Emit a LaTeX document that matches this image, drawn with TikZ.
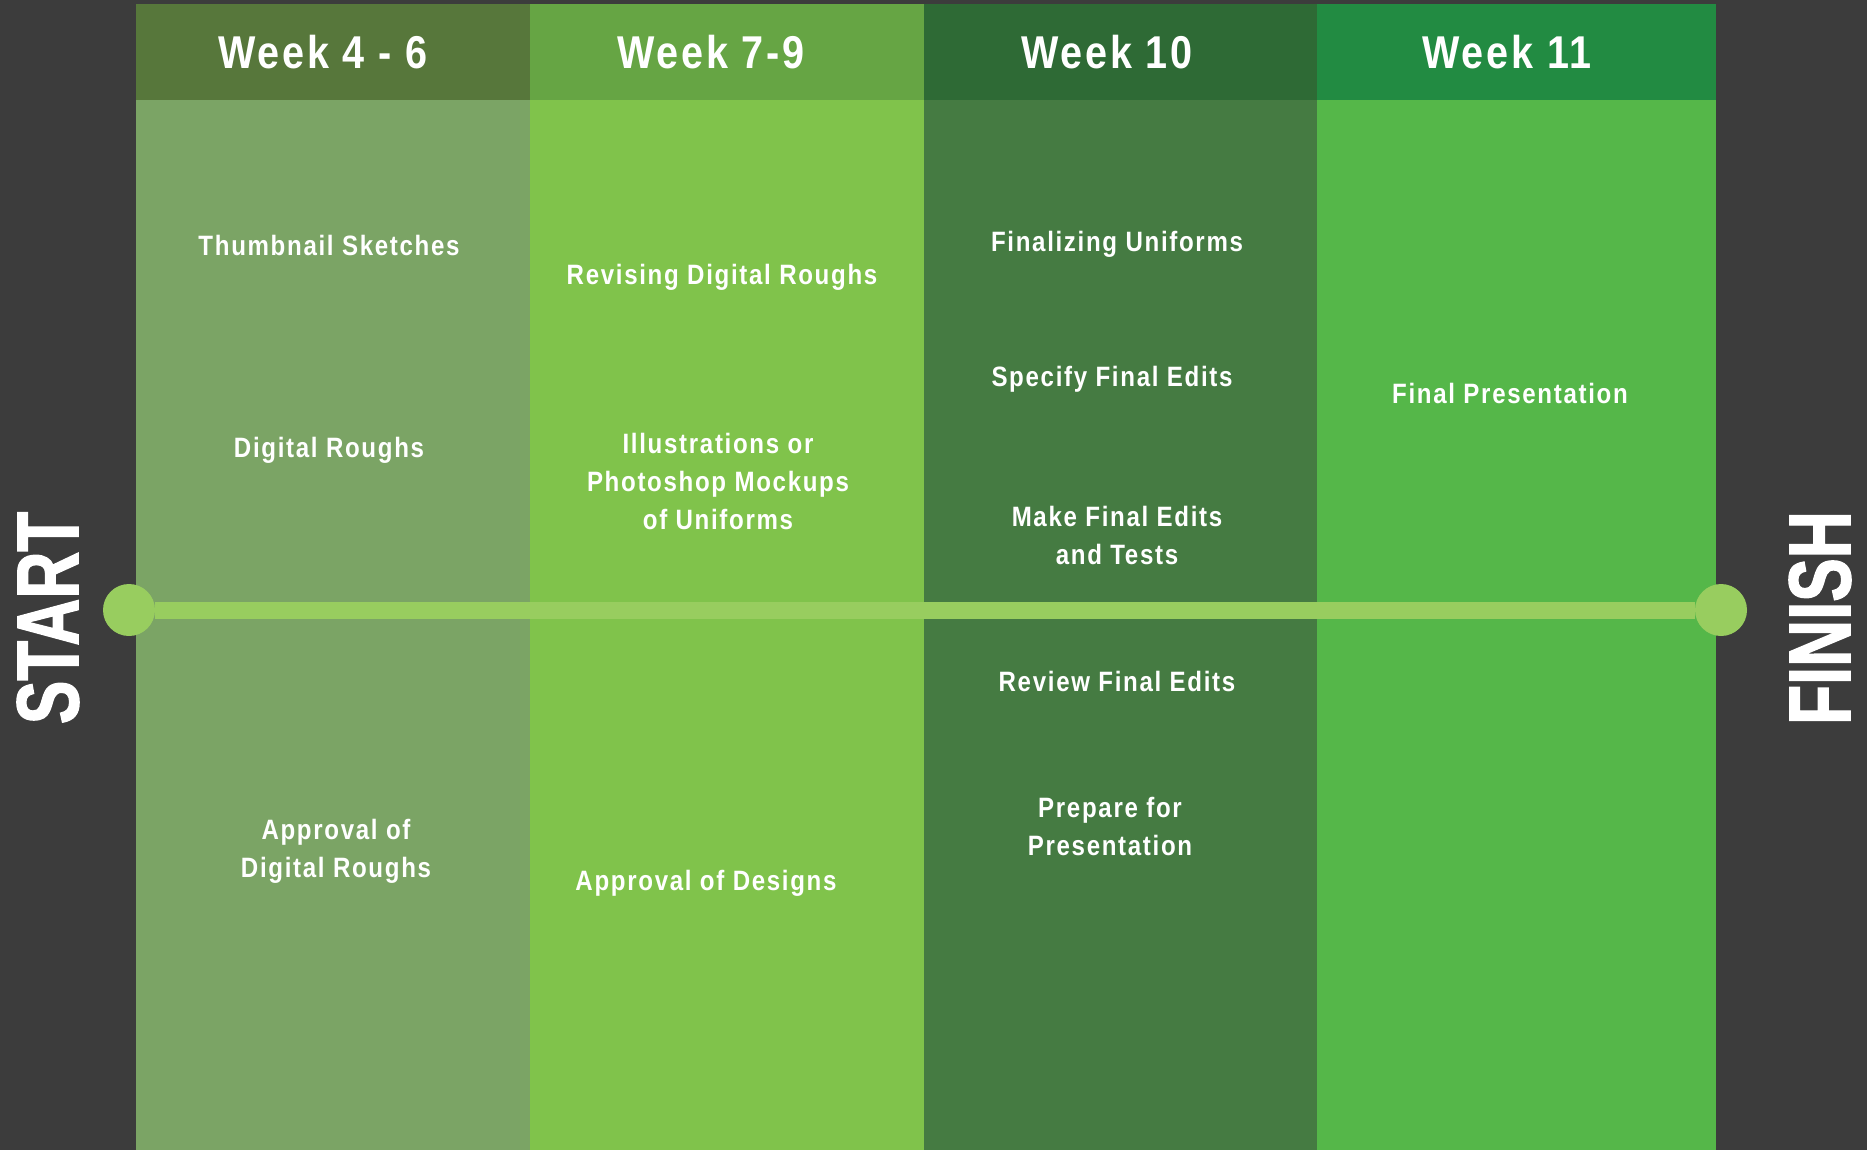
\documentclass[tikz,border=0pt]{standalone}
\usepackage{fontspec}
\setmainfont{Liberation Sans}[FakeStretch=0.86,LetterSpace=6]
\newfontfamily\bigfont{Liberation Sans}[FakeStretch=0.74,FakeBold=1.5]

\definecolor{board}{HTML}{3C3C3C}
\definecolor{headA}{HTML}{57773B}
\definecolor{bodyA}{HTML}{7BA465}
\definecolor{headB}{HTML}{66A544}
\definecolor{bodyB}{HTML}{80C34B}
\definecolor{headC}{HTML}{2E6A35}
\definecolor{bodyC}{HTML}{457B42}
\definecolor{headD}{HTML}{228B42}
\definecolor{bodyD}{HTML}{55B749}
\definecolor{tline}{HTML}{98CD5F}

\tikzset{
  week/.style={text=white,font=\fontsize{46}{50}\selectfont\bfseries},
  task/.style={text=white,align=center,font=\fontsize{28}{38}\selectfont\bfseries},
  dot/.style={circle,fill=tline,minimum size=52pt,inner sep=0pt},
  endlabel/.style={text=white,rotate=90,font=\bigfont\fontsize{88}{88}\selectfont\bfseries}
}

\begin{document}
\begin{tikzpicture}[x=1pt,y=-1pt]

\fill[board] (0,0) rectangle (1867,1150);

% week columns
\fill[headA] (136,4) rectangle (530,100);
\fill[bodyA] (136,100) rectangle (530,1150);
\fill[headB] (530,4) rectangle (924,100);
\fill[bodyB] (530,100) rectangle (924,1150);
\fill[headC] (924,4) rectangle (1317,100);
\fill[bodyC] (924,100) rectangle (1317,1150);
\fill[headD] (1317,4) rectangle (1716,100);
\fill[bodyD] (1317,100) rectangle (1716,1150);

\node[week] (wkA) at (323,52) {Week 4 - 6};
\node[week] (wkB) at (711,52) {Week 7-9};
\node[week] (wkC) at (1107,52) {Week 10};
\node[week] (wkD) at (1507,52) {Week 11};

% timeline
\node[dot] (start) at (129,610) {};
\node[dot] (finish) at (1721,610) {};
\draw[tline,line width=17pt] (start) -- (finish);

\node[endlabel] (startlbl) at (48,618) {START};
\node[endlabel] (finishlbl) at (1820,618) {FINISH};

% tasks, weeks 4-6
\node[task] (thumb) at (329,245) {Thumbnail Sketches};
\node[task] (rough) at (329,450) {Digital Roughs};
\node[task] (okrough) at (336,851) {Approval of\\Digital Roughs};

% weeks 7-9
\node[task] (revise) at (722,277) {Revising Digital Roughs};
\node[task] (mockup) at (718,481) {Illustrations or\\Photoshop Mockups\\of Uniforms};
\node[task] (okdesign) at (706,883) {Approval of Designs};

% week 10
\node[task] (finalize) at (1117,244) {Finalizing Uniforms};
\node[task] (specify) at (1112,379) {Specify Final Edits};
\node[task] (edits) at (1117,535) {Make Final Edits\\and Tests};
\node[task] (review) at (1117,681) {Review Final Edits};
\node[task] (prepare) at (1110,826) {Prepare for\\Presentation};

% week 11
\node[task] (present) at (1510,393) {Final Presentation};

\end{tikzpicture}
\end{document}
